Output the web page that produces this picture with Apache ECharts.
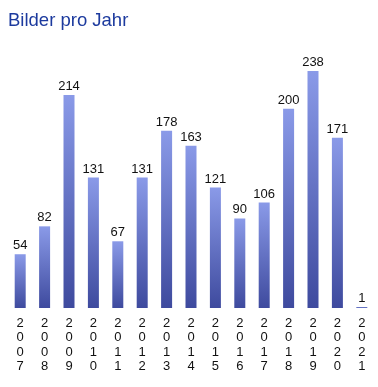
<!DOCTYPE html>
<html><head><meta charset="utf-8">
<script src="https://cdn.jsdelivr.net/npm/echarts@6/dist/echarts.min.js"></script>
<style>html,body{margin:0;padding:0;background:#fff}#c{width:378px;height:387px}</style>
</head><body><div id="c"></div>
<script>
var years = ['2007','2008','2009','2010','2011','2012','2013','2014','2015','2016','2017','2018','2019','2020','2021'];
var counts = [54,82,214,131,67,131,178,163,121,90,106,200,238,171,1];
var chart = echarts.init(document.getElementById('c'));
chart.setOption({
  animation:false,
  title:{text:'Bilder pro Jahr',left:3,top:6,textStyle:{fontFamily:'Liberation Sans, Arial',fontSize:18.5,fontWeight:'normal',color:'#1c3a9e'}},
  grid:{left:8,right:4,top:71,bottom:79},
  xAxis:{type:'category',data:years,axisLine:{show:false},axisTick:{show:false},
    axisLabel:{interval:0,margin:8,color:'#111',fontFamily:'Liberation Sans, Arial',fontSize:13,lineHeight:14.5,
      formatter:function(v){return v.split('').join('\n');}}},
  yAxis:{type:'value',min:0,max:238,show:false,splitLine:{show:false}},
  series:[{type:'bar',data:counts,barWidth:11,barMinHeight:1,
    itemStyle:{color:new echarts.graphic.LinearGradient(0,0,0,1,[{offset:0,color:'#8a9ae8'},{offset:1,color:'#3e4a9e'}])},
    label:{show:true,position:'top',distance:2,color:'#111',fontFamily:'Liberation Sans, Arial',fontSize:13}}]
});
</script></body></html>
